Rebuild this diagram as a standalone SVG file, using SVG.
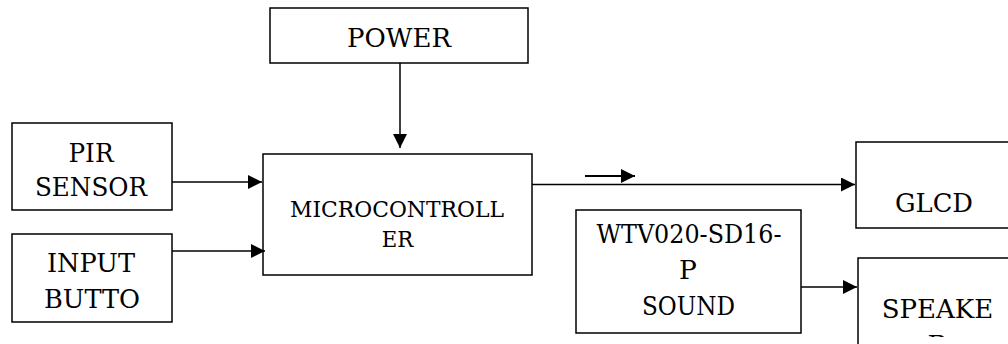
<svg xmlns="http://www.w3.org/2000/svg" width="1008" height="344" viewBox="0 0 1008 344">
  <style>
    .box { fill: #fff; stroke: #000; stroke-width: 1.5; }
    .lbl { font-family: "DejaVu Serif", "Liberation Serif", serif; font-size: 26.5px; fill: #000; text-anchor: middle; }
    .sm { font-size: 22.5px; }
    .wire { stroke: #000; stroke-width: 1.5; fill: none; marker-end: url(#head); }
  </style>
  <defs>
    <marker id="head" viewBox="0 0 14 14" refX="14" refY="7" markerWidth="14" markerHeight="14" markerUnits="userSpaceOnUse" orient="auto">
      <path d="M0,0 L14,7 L0,14 Z" fill="#000"/>
    </marker>
    <!-- text that runs past the bottom of these boxes is cut off -->
    <clipPath id="clipSound"><rect x="577" y="211" width="223" height="120"/></clipPath>
    <clipPath id="clipSpeaker"><rect x="859" y="259" width="150" height="78"/></clipPath>
  </defs>

  <g id="power">
    <rect class="box" x="270" y="8" width="258" height="55"/>
    <text class="lbl" x="399" y="47" textLength="104" lengthAdjust="spacingAndGlyphs">POWER</text>
  </g>

  <g id="pir-sensor">
    <rect class="box" x="12" y="123" width="160" height="87"/>
    <text class="lbl" x="91" y="162" textLength="45" lengthAdjust="spacingAndGlyphs">PIR</text>
    <text class="lbl" x="91" y="196" textLength="112" lengthAdjust="spacingAndGlyphs">SENSOR</text>
  </g>

  <g id="input-button">
    <rect class="box" x="12" y="234" width="160" height="88"/>
    <text class="lbl" x="91" y="272" textLength="88" lengthAdjust="spacingAndGlyphs">INPUT</text>
    <text class="lbl" x="92" y="307.5" textLength="96" lengthAdjust="spacingAndGlyphs">BUTTO</text>
  </g>

  <g id="microcontroller">
    <rect class="box" x="263" y="154" width="269" height="121"/>
    <text class="lbl sm" x="397" y="217" textLength="214" lengthAdjust="spacingAndGlyphs">MICROCONTROLL</text>
    <text class="lbl sm" x="397.5" y="246.5" textLength="31.5" lengthAdjust="spacingAndGlyphs">ER</text>
  </g>

  <g id="glcd">
    <rect class="box" x="856" y="142" width="170" height="86"/>
    <text class="lbl" x="934" y="211.5" textLength="78" lengthAdjust="spacingAndGlyphs">GLCD</text>
  </g>

  <g id="sound-module">
    <rect class="box" x="576" y="210" width="225" height="123"/>
    <g clip-path="url(#clipSound)">
      <text class="lbl" x="689" y="243" textLength="185" lengthAdjust="spacingAndGlyphs">WTV020-SD16-</text>
      <text class="lbl" x="688" y="278.5">P</text>
      <text class="lbl" x="688.5" y="314.5" textLength="93" lengthAdjust="spacingAndGlyphs">SOUND</text>
      <text class="lbl" x="688.5" y="350" textLength="125" lengthAdjust="spacingAndGlyphs">MODULE</text>
    </g>
  </g>

  <g id="speaker">
    <rect class="box" x="858" y="258" width="170" height="100"/>
    <g clip-path="url(#clipSpeaker)">
      <text class="lbl" x="937.5" y="318" textLength="111.5" lengthAdjust="spacingAndGlyphs">SPEAKE</text>
      <text class="lbl" x="937.5" y="353.5">R</text>
    </g>
  </g>

  <g id="connectors">
    <line class="wire" x1="400" y1="63" x2="400" y2="148"/>
    <line class="wire" x1="172" y1="182" x2="262" y2="182"/>
    <line class="wire" x1="172" y1="251" x2="265" y2="251"/>
    <line class="wire" x1="532" y1="184.5" x2="855" y2="184.5"/>
    <line class="wire" x1="801" y1="287" x2="857" y2="287"/>
    <line class="wire" x1="585" y1="176" x2="635" y2="176" style="stroke-width:2"/>
  </g>
</svg>
